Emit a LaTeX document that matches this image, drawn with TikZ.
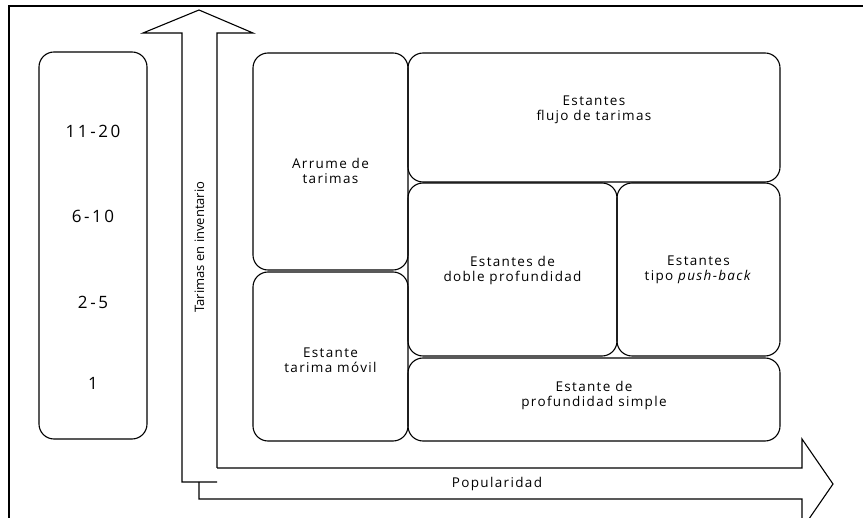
\documentclass[tikz,border=0pt]{standalone}
\usepackage{fontspec}
\setmainfont{Open Sans}[LetterSpace=10.0]
\usetikzlibrary{calc}
\tikzset{
  caja/.style={draw, line width=1.1pt, rounded corners=15pt},
  rotulo/.style={align=center, font=\fontsize{13.5}{15}\selectfont, inner sep=0pt},
  cifra/.style={font=\fontsize{17}{19}\selectfont\addfontfeatures{LetterSpace=15}, inner sep=0pt},
  flecha/.style={draw, line width=1.1pt, line join=miter}
}

\begin{document}
\begin{tikzpicture}[x=1pt,y=-1pt] % 1 unidad = 1 pixel
\useasboundingbox (0,0) rectangle (863,518);
\clip (0,0) rectangle (863,518);

%MARCO
\draw [line width=2pt] (863,6) -- (9,6) -- (9,518);

%COLUMNA IZQUIERDA (tarimas)
\draw [caja] (39,52) rectangle (147,439);
\node [cifra] (n1120) at ($(93,131)$) {11-20};
\node [cifra] (n610) at ($(93,216)$) {6-10};
\node [cifra] (n25) at ($(93,302)$) {2-5};
\node [cifra] (n1) at ($(93,383)$) {1};

%FLECHA VERTICAL
\draw [flecha] (217,468) -- (217,33) -- (253,33) -- (199,10) -- (143,33) -- (182,33) -- (182,482) -- (217,482);
\node [rotulo, rotate=90, font=\fontsize{13}{15}\selectfont\addfontfeatures{LetterSpace=0}] (inventario) at ($(199.5,247)$) {Tarimas en inventario};

%FLECHA HORIZONTAL
\draw [flecha] (217,468) -- (802,468) -- (802,439) -- (833,484) -- (802,529) -- (802,499) -- (199,499) -- (199,482);
\node [rotulo] (popularidad) at ($(497,484)$) {Popularidad};

%CAJA ARRUME
\draw [caja] (253,53) rectangle (408,270);
\node [rotulo] (arrume) at ($(330.5,171)$) {Arrume de\\tarimas};

%CAJA TARIMA MOVIL
\draw [caja] (253,272) rectangle (408,441);
\node [rotulo] (movil) at ($(330.5,360)$) {Estante\\tarima móvil};

%CAJA FLUJO
\draw [caja] (408,53) rectangle (780,182);
\node [rotulo] (flujo) at ($(594,110)$) {Estantes\\flujo de tarimas};

%CAJA DOBLE PROFUNDIDAD
\draw [caja] (408,183) rectangle (617,356);
\node [rotulo] (doble) at ($(512.5,270)$) {Estantes de\\doble profundidad};

%CAJA PUSH-BACK
\draw [caja] (617,183) rectangle (780,356);
\node [rotulo] (pushback) at ($(698.5,270)$) {Estantes\\tipo \textit{push-back}};

%CAJA PROFUNDIDAD SIMPLE
\draw [caja] (408,358) rectangle (780,441);
\node [rotulo] (simple) at ($(594,395)$) {Estante de\\profundidad simple};

\end{tikzpicture}
\end{document}
